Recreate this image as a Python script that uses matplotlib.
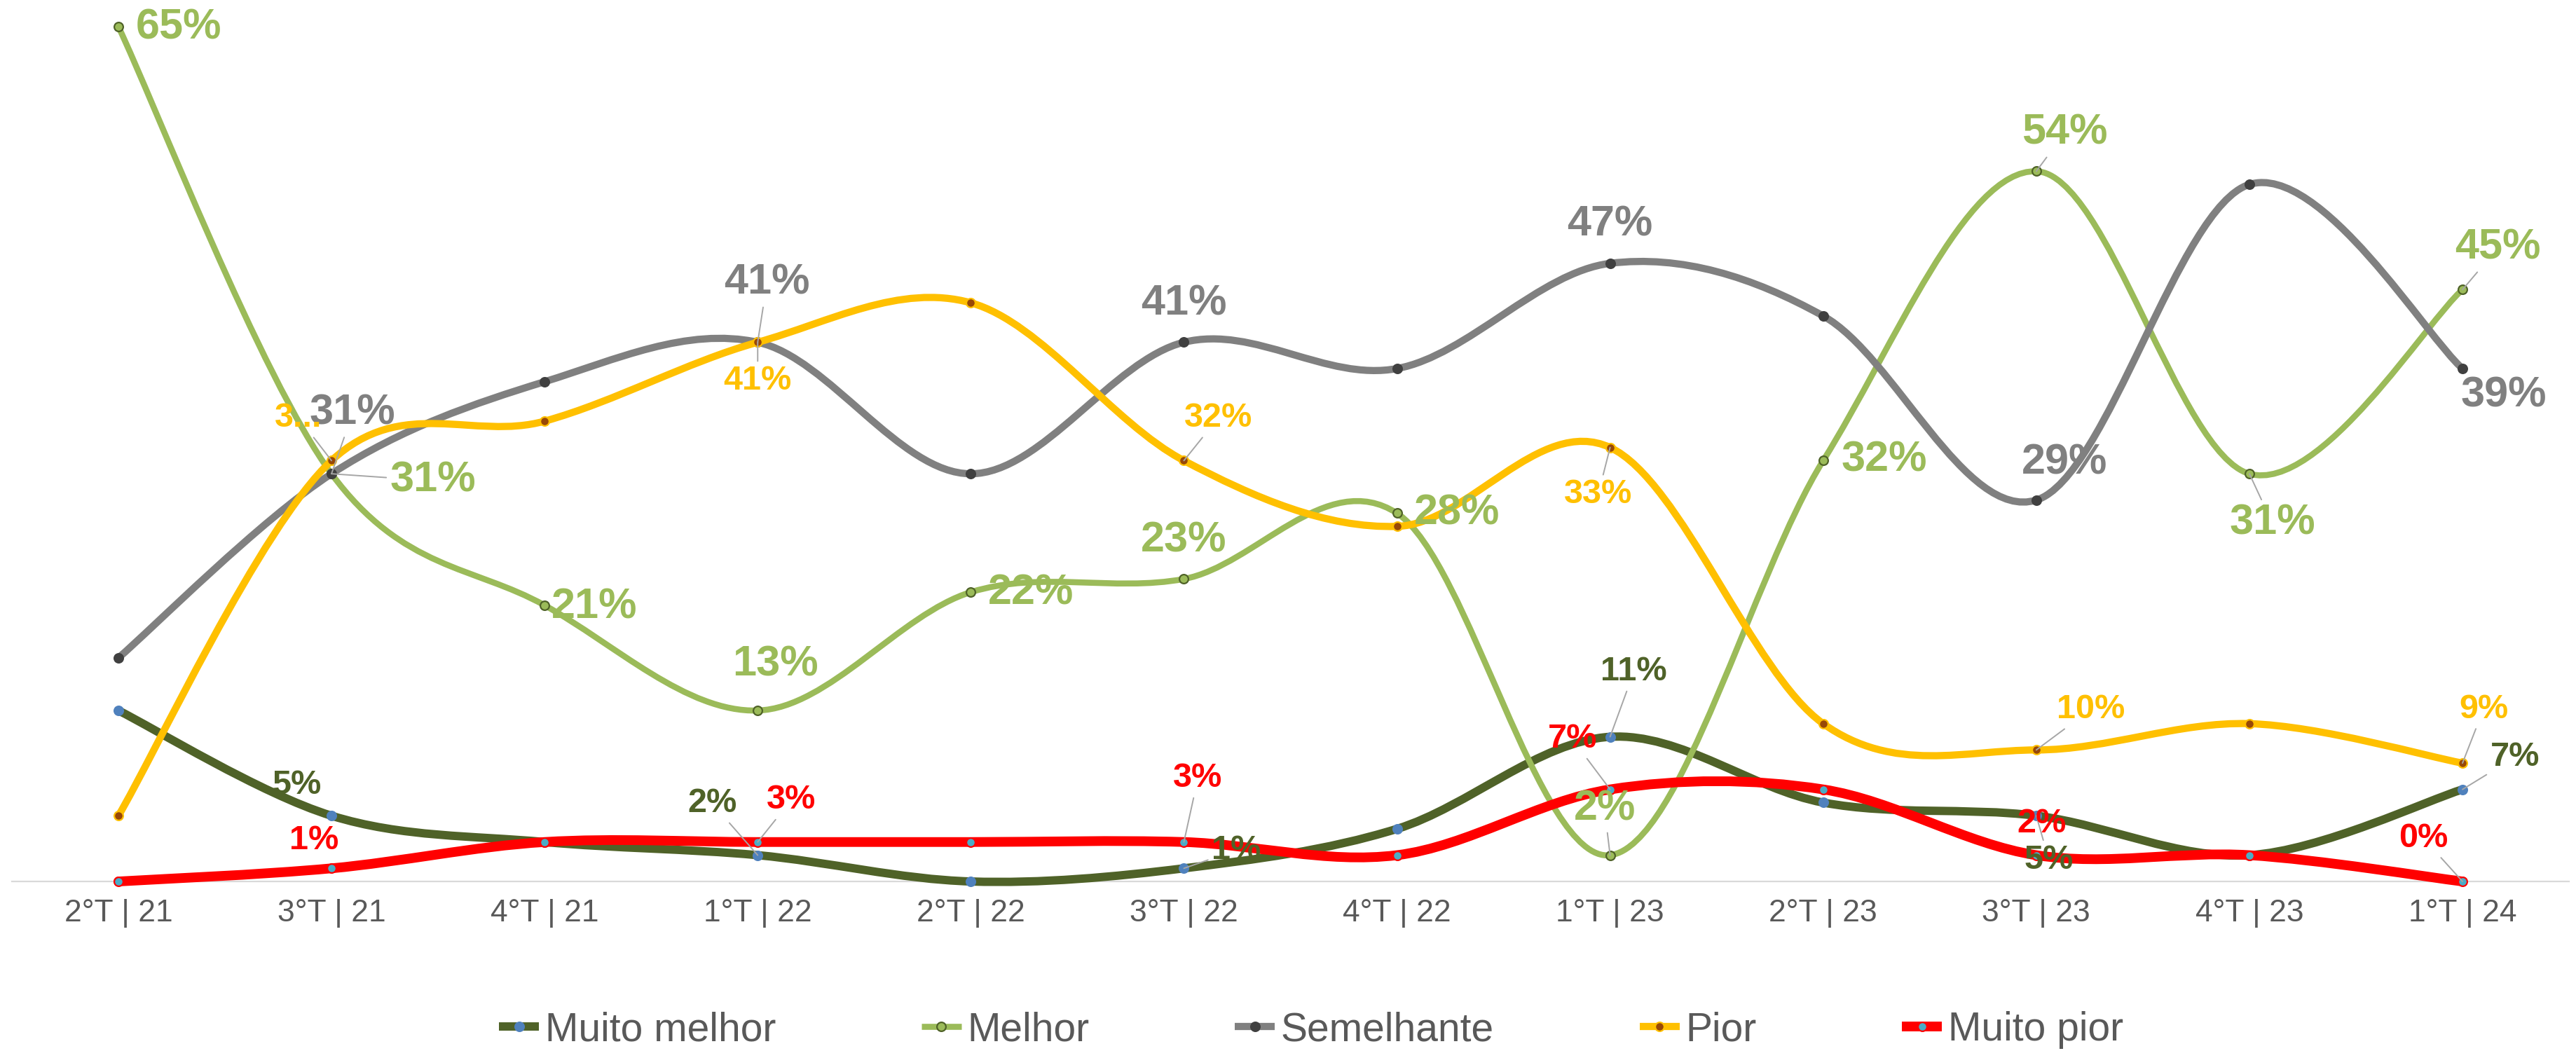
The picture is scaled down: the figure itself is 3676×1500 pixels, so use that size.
import numpy as np
import matplotlib
matplotlib.use("Agg")
import matplotlib.pyplot as plt
from matplotlib.path import Path
from matplotlib.patches import PathPatch
from matplotlib.lines import Line2D

plt.rcParams["font.family"] = ["Liberation Sans", "DejaVu Sans"]

# --------------------------------------------------------------------------- #
# Data (percent of answers per quarter)
# --------------------------------------------------------------------------- #
quarters = ["2°T | 21", "3°T | 21", "4°T | 21", "1°T | 22", "2°T | 22", "3°T | 22",
            "4°T | 22", "1°T | 23", "2°T | 23", "3°T | 23", "4°T | 23", "1°T | 24"]
muito_melhor = [13, 5, 3, 2, 0, 1, 4, 11, 6, 5, 2, 7]
melhor = [65, 31, 21, 13, 22, 23, 28, 2, 32, 54, 31, 45]
semelhante = [17, 31, 38, 41, 31, 41, 39, 47, 43, 29, 53, 39]
pior = [5, 32, 35, 41, 44, 32, 27, 33, 12, 10, 12, 9]
muito_pior = [0, 1, 3, 3, 3, 3, 2, 7, 7, 2, 2, 0]

# --------------------------------------------------------------------------- #
# Styles
# --------------------------------------------------------------------------- #
series = [
    ("Muito melhor", muito_melhor, dict(color="#4F6228", lw=4.3, mfc="#4F81BD", mec="#4F81BD")),
    ("Melhor", melhor, dict(color="#9BBB59", lw=3.1, mfc="#9BBB59", mec="#4F6228")),
    ("Semelhante", semelhante, dict(color="#808080", lw=3.7, mfc="#404040", mec="#404040")),
    ("Pior", pior, dict(color="#FFC000", lw=3.7, mfc="#984807", mec="#FFC000")),
    ("Muito pior", muito_pior, dict(color="#FF0000", lw=5.0, mfc="#4BACC6", mec="#FF0000")),
]

# label layout: index -> (dx px, dy px up, leader line, text override)
BIG, SMALL = 22, 17.5
label_layout = {
    "Melhor": (BIG, {0: (86, -2, False), 1: (145, -10, True), 2: (71, -3, False),
                     3: (25, 65, False), 4: (86, -2, False), 5: (0, 54, False),
                     6: (86, -1, False), 7: (-8, 66, True), 8: (87, 0, False),
                     9: (40, 54, True), 10: (33, -71, True), 11: (50, 59, True)}),
    "Semelhante": (BIG, {1: (30, 86, True), 3: (13, 84, True), 5: (0, 54, False),
                         7: (0, 55, False), 9: (40, 53, False), 11: (59, -39, False)}),
    "Pior": (SMALL, {1: (-47, 61, True, "3..."), 3: (0, -55, True), 5: (49, 61, True),
                     7: (-17, -67, True), 9: (78, 58, True), 11: (30, 77, True)}),
    "Muito melhor": (SMALL, {1: (-49, 44, False), 3: (-65, 74, True), 5: (75, 26, True),
                             7: (34, 93, True), 9: (18, -63, True), 11: (75, 46, True)}),
    "Muito pior": (SMALL, {1: (-25, 40, False), 3: (48, 60, True), 5: (20, 91, True),
                           7: (-54, 72, True), 9: (8, 45, False), 11: (-56, 62, True)}),
}


def smooth_path(xs, ys):
    """Excel-like smoothed line: cubic Bezier through every point."""
    pts = np.column_stack([xs, ys]).astype(float)
    ext = np.vstack([pts[0], pts, pts[-1]])
    verts, codes = [pts[0]], [Path.MOVETO]
    for i in range(len(pts) - 1):
        p0, p1, p2, p3 = ext[i], ext[i + 1], ext[i + 2], ext[i + 3]
        verts += [p1 + (p2 - p0) / 6, p2 - (p3 - p1) / 6, p2]
        codes += [Path.CURVE4] * 3
    return Path(verts, codes)


fig = plt.figure(figsize=(18.38, 7.5), dpi=200)
ax = fig.add_axes([0.0046, 0.1613, 0.9927, 0.8384])
x = np.arange(len(quarters))

handles = []
for z, (name, vals, st) in enumerate(series):
    patch = PathPatch(smooth_path(x, vals), fill=False, edgecolor=st["color"], lw=st["lw"],
                      capstyle="round", joinstyle="round", clip_on=False, zorder=2 + z)
    ax.add_patch(patch)
    ax.plot(x, vals, ls="none", marker="o", ms=4.6, mfc=st["mfc"], mec=st["mec"],
            mew=0.8, clip_on=False, zorder=2.5 + z)
    handles.append(Line2D([], [], color=st["color"], lw=st["lw"], marker="o", ms=4.6,
                          mfc=st["mfc"], mec=st["mec"], mew=0.8, solid_capstyle="butt",
                          label=name))

for name, vals, st in series:
    size, items = label_layout[name]
    for i, spec in items.items():
        dx, dy, leader = spec[:3]
        txt = spec[3] if len(spec) > 3 else f"{vals[i]}%"
        ax.annotate(txt, xy=(i, vals[i]), xytext=(dx, dy), textcoords="offset pixels",
                    ha="center", va="center", fontsize=size, fontweight="bold",
                    color=st["color"], annotation_clip=False, zorder=10,
                    arrowprops=dict(arrowstyle="-", color="#A6A6A6", lw=0.7,
                                    shrinkA=0, shrinkB=0) if leader else None)

ax.set_xlim(-0.5, len(quarters) - 0.5)
ax.set_ylim(0, 67)
ax.set_xticks(x)
ax.set_xticklabels(quarters, fontsize=16, color="#595959")
ax.tick_params(axis="x", length=0, pad=9)
ax.set_yticks([])
for s in ("top", "left", "right"):
    ax.spines[s].set_visible(False)
ax.spines["bottom"].set_color("#D9D9D9")
ax.spines["bottom"].set_linewidth(0.8)
ax.spines["bottom"].set_zorder(1)
ax.patch.set_alpha(0)

fig.legend(handles=handles, loc="center", bbox_to_anchor=(0.509, 0.02), ncol=5,
           frameon=False, fontsize=20.5, handlelength=1.0, handletextpad=0.15,
           columnspacing=3.65, labelcolor="#595959")

fig.savefig("out.png", dpi=200)
